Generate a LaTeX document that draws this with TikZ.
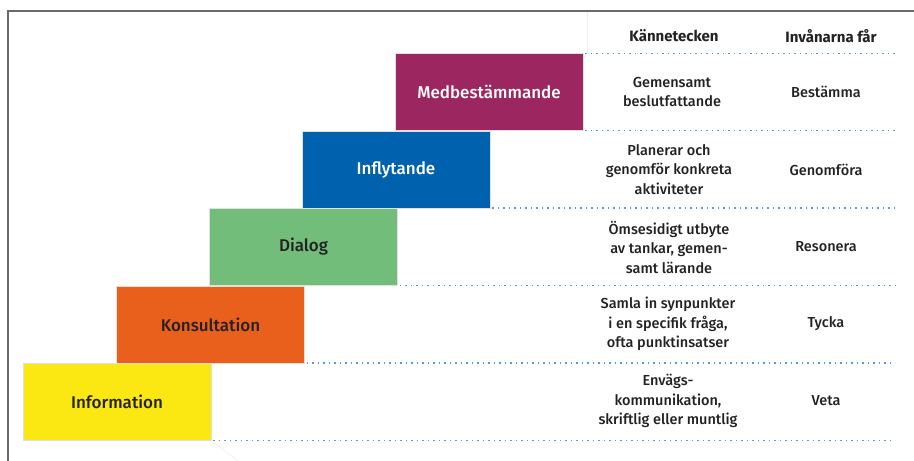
\documentclass[tikz,border=0pt]{standalone}
\usepackage{fontspec}
\setmainfont{Fira Sans}[UprightFont=* Medium, BoldFont=* Bold]
\definecolor{frameGray}{HTML}{6A6A6A}
\definecolor{dotBlue}{HTML}{5B9BD5}
\definecolor{inkDark}{HTML}{222222}
\definecolor{lvMagenta}{HTML}{9C2760}
\definecolor{lvBlue}{HTML}{0062AE}
\definecolor{lvGreen}{HTML}{72BD7A}
\definecolor{lvOrange}{HTML}{E9601C}
\definecolor{lvYellow}{HTML}{FBE711}
\begin{document}
\begin{tikzpicture}[x=1pt,y=-1pt,
  stepbox/.style={rectangle, draw=white!88!black, line width=0.6pt,
    minimum width=188pt, minimum height=77pt, inner sep=0pt, outer sep=0pt,
    font=\fontsize{17}{19}\selectfont, text=inkDark},
  rowline/.style={dotBlue, line width=1.5pt, dash pattern=on 1.5pt off 4pt},
  cell/.style={align=center, inner sep=0pt, text=inkDark,
    font=\fontsize{14.5}{19.5}\selectfont},
  head/.style={inner sep=0pt, text=inkDark, font=\bfseries\fontsize{15}{17}\selectfont},
  framestroke/.style={frameGray, line width=2pt},
  faint/.style={black!7, line width=0.5pt}
]
\useasboundingbox (0,0) rectangle (914,461);
\fill[white] (0,0) rectangle (914,461);

% outer frame (top and left edges)
\coordinate (fTL) at (8,11);
\coordinate (fTR) at (914,11);
\coordinate (fBL) at (8,461);
\draw[framestroke] (fBL) -- (fTL) -- (fTR);

% right end of the row separators
\coordinate (rend) at (895,0);

% stair steps
\node[stepbox, fill=lvMagenta, text=white] (med) at (489,92) {Medbestämmande};
\node[stepbox, fill=lvBlue, text=white] (inf) at (396,169.5) {Inflytande};
\node[stepbox, fill=lvGreen] (dia) at (303.5,247) {Dialog};
\node[stepbox, fill=lvOrange] (kon) at (210.5,324.5) {Konsultation};
\node[stepbox, fill=lvYellow] (inf0) at (117,402) {Information};

% faint guide strokes
\coordinate (gTop) at (587,12);
\draw[faint] (gTop) -- (gTop |- med.north);
\coordinate (gDiag) at (238,461);
\draw[faint] (inf0.south east) -- (gDiag);

% dotted row separators
\draw[rowline] ([xshift=2pt]med.north east) -- (med.north east -| rend);
\draw[rowline] ([xshift=2pt]med.south east) -- (med.south east -| rend);
\draw[rowline] ([xshift=2pt]inf.south east) -- (inf.south east -| rend);
\draw[rowline] ([xshift=2pt]dia.south east) -- (dia.south east -| rend);
\draw[rowline] ([xshift=2pt]kon.south east) -- (kon.south east -| rend);
\draw[rowline] ([xshift=2pt]inf0.south east) -- (inf0.south east -| rend);

% column headers
\node[head] (h1) at (674,36) {Kännetecken};
\node[head] (h2) at (831,36) {Invånarna får};

% characteristics column
\node[cell] (k1) at (672,92) {Gemensamt\\beslutfattande};
\node[cell] (k2) at (669,169.5) {Planerar och\\genomför konkreta\\aktiviteter};
\node[cell] (k3) at (669,247) {Ömsesidigt utbyte\\av tankar, gemen-\\samt lärande};
\node[cell] (k4) at (668,324) {Samla in synpunkter\\i en specifik fråga,\\ofta punktinsatser};
\node[cell] (k5) at (668,401) {Envägs-\\kommunikation,\\skriftlig eller muntlig};

% what residents get column
\node[cell] (v1) at (826,92) {Bestämma};
\node[cell] (v2) at (826,169.5) {Genomföra};
\node[cell] (v3) at (826,247) {Resonera};
\node[cell] (v4) at (826,324) {Tycka};
\node[cell] (v5) at (826,401) {Veta};
\end{tikzpicture}
\end{document}
